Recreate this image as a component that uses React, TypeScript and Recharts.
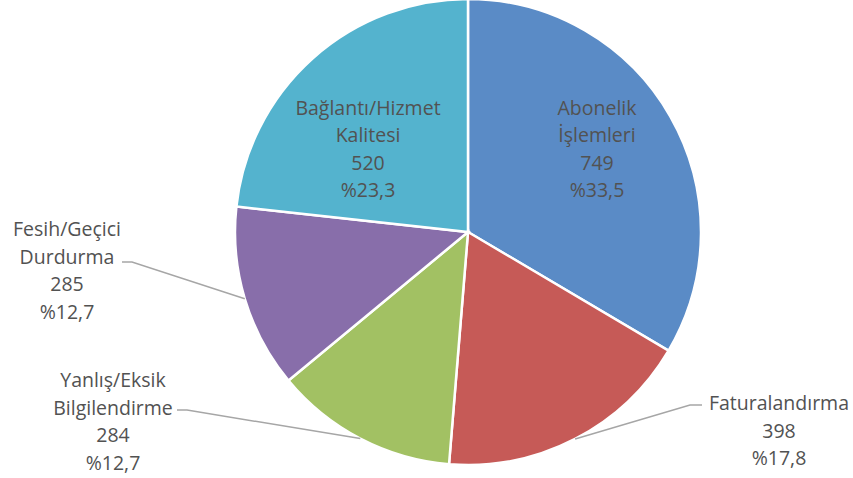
import React from "react";
import { PieChart, Pie, Cell } from "recharts";

// complaint categories, clockwise from 12 o'clock
const categories = [
  "Abonelik\nİşlemleri",
  "Faturalandırma",
  "Yanlış/Eksik\nBilgilendirme",
  "Fesih/Geçici\nDurdurma",
  "Bağlantı/Hizmet\nKalitesi",
];
const counts = [749, 398, 284, 285, 520];
const colors = ["#5a8bc6", "#c65a57", "#a2c163", "#886eaa", "#54b3ce"];

// where each label sits, relative to the pie centre
type LabelLayout =
  | { kind: "inside"; dx: number; dy: number }
  | { kind: "outside"; dx: number; dy: number; elbowX: number; elbowY: number; endX: number };

const labelLayout: LabelLayout[] = [
  { kind: "inside", dx: 129, dy: -84 },
  { kind: "outside", dx: 311, dy: 170, elbowX: 222, elbowY: 173, endX: 234 },
  { kind: "outside", dx: -355, dy: 147, elbowX: -281, elbowY: 178, endX: -291 },
  { kind: "outside", dx: -401, dy: -4, elbowX: -336, elbowY: 30, endX: -346 },
  { kind: "inside", dx: -100, dy: -84 },
];

const data = categories.map((name, i) => ({ name, value: counts[i] }));

const RADIAN = Math.PI / 180;
const LINE_H = 27.5;
const textColor = "#525252";

const formatPct = (p: number) => "%" + (p * 100).toFixed(1).replace(".", ",");

const renderLabel = (props: any) => {
  const { cx, cy, midAngle, outerRadius, index, percent, value } = props;
  const layout = labelLayout[index];
  const lines = [...categories[index].split("\n"), String(value), formatPct(percent)];

  let tx = cx + layout.dx;
  let ty = cy + layout.dy;
  if (layout.kind === "inside") {
    ty = ty - ((lines.length - 1) * LINE_H) / 2;
  }

  const text = (
    <text
      x={tx}
      y={ty}
      fill={textColor}
      textAnchor="middle"
      dominantBaseline="central"
      fontSize={19.5}
      fontFamily="'Open Sans', sans-serif"
    >
      {lines.map((l, i) => (
        <tspan key={i} x={tx} y={ty + i * LINE_H}>
          {l}
        </tspan>
      ))}
    </text>
  );

  if (layout.kind === "inside") return <g key={`lbl-${index}`}>{text}</g>;

  const sx = cx + outerRadius * Math.cos(-midAngle * RADIAN);
  const sy = cy + outerRadius * Math.sin(-midAngle * RADIAN);
  const ex = cx + layout.elbowX;
  const ey = cy + layout.elbowY;
  const fx = cx + layout.endX;

  return (
    <g key={`lbl-${index}`}>
      <polyline
        points={`${sx},${sy} ${ex},${ey} ${fx},${ey}`}
        fill="none"
        stroke="#a6a6a6"
        strokeWidth={1.5}
      />
      {text}
    </g>
  );
};

export default function App() {
  return (
    <div style={{ position: "absolute", left: 0, top: 0, width: 853, height: 478, background: "#fff" }}>
      <PieChart width={853} height={478} margin={{ top: 0, right: 0, bottom: 0, left: 0 }}>
        <Pie
          data={data}
          dataKey="value"
          nameKey="name"
          cx={468}
          cy={232}
          outerRadius={233}
          startAngle={90}
          endAngle={-270}
          stroke="#fff"
          strokeWidth={2.5}
          label={renderLabel}
          labelLine={false}
          isAnimationActive={false}
        >
          {data.map((entry, index) => (
            <Cell key={`cell-${index}`} fill={colors[index]} />
          ))}
        </Pie>
      </PieChart>
    </div>
  );
}
